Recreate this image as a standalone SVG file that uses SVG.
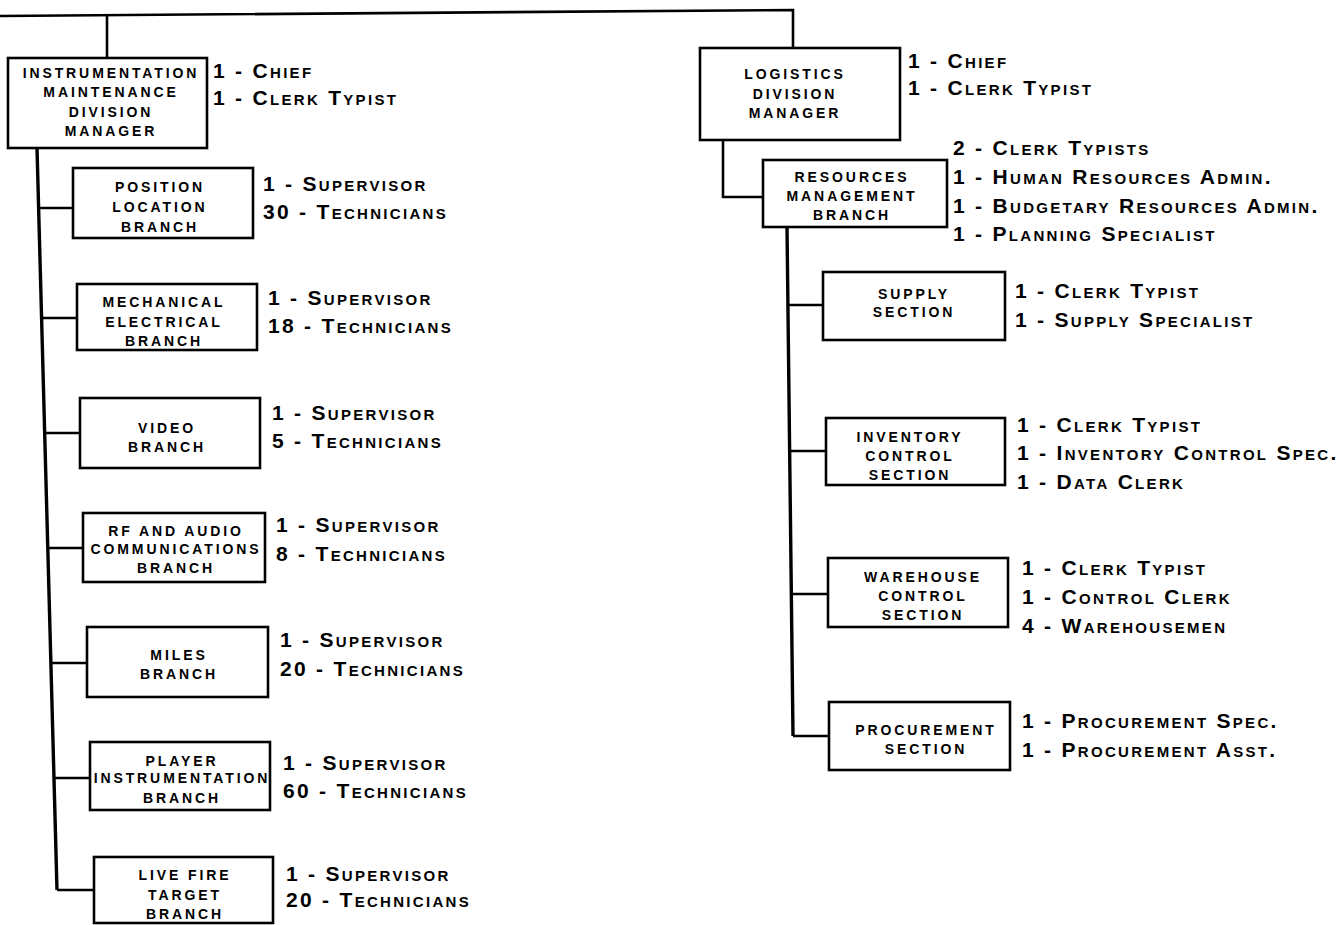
<svg xmlns="http://www.w3.org/2000/svg" width="1339" height="925" viewBox="0 0 1339 925">
<style>
.bg{fill:#fff}
.box{fill:#fff;stroke:#000;stroke-width:2.6}
.ln{fill:none;stroke:#000;stroke-width:2.6;stroke-linejoin:miter}
.spine{fill:none;stroke:#000;stroke-width:3.4}
.bt{font-family:"Liberation Sans",Arial,sans-serif;font-weight:bold;font-size:14px;letter-spacing:2.9px;text-anchor:middle;fill:#000}
.st{font-family:"Liberation Sans",Arial,sans-serif;font-weight:bold;font-size:21px;letter-spacing:2.3px;font-variant:small-caps;fill:#000}
</style>
<rect class="bg" x="0" y="0" width="1339" height="925"/>
<g id="connectors">
<path class="ln" d="M0,16 L793,10 L793,48"/>
<path class="ln" d="M107,15 L107,58"/>
<path class="spine" d="M37,148 L57,890"/>
<path class="ln" d="M38.6,208 H73 M41.6,318 H77 M44.7,433 H80 M47.8,548 H83 M50.9,663 H87 M54,778 H90 M57,890 H94"/>
<path class="ln" d="M723,140 L723,197 L763,197"/>
<path class="spine" d="M787,227 L793,736"/>
<path class="ln" d="M788,305 H823 M789,451 H826 M790.5,594 H828 M793,736 H829"/>
</g>
<g id="instrumentation">
<rect class="box" x="8" y="58" width="199" height="90"/>
<text class="bt" x="111" y="78">INSTRUMENTATION</text>
<text class="bt" x="111" y="97">MAINTENANCE</text>
<text class="bt" x="111" y="117">DIVISION</text>
<text class="bt" x="111" y="136">MANAGER</text>
<text class="st" x="213" y="78">1 - Chief</text>
<text class="st" x="213" y="105">1 - Clerk Typist</text>
</g>
<g id="position-location">
<rect class="box" x="73" y="168" width="180" height="70"/>
<text class="bt" x="160" y="192">POSITION</text>
<text class="bt" x="160" y="212">LOCATION</text>
<text class="bt" x="160" y="232">BRANCH</text>
<text class="st" x="263" y="191">1 - Supervisor</text>
<text class="st" x="263" y="219">30 - Technicians</text>
</g>
<g id="mechanical-electrical">
<rect class="box" x="77" y="284" width="180" height="66"/>
<text class="bt" x="164" y="307">MECHANICAL</text>
<text class="bt" x="164" y="327">ELECTRICAL</text>
<text class="bt" x="164" y="346">BRANCH</text>
<text class="st" x="268" y="305">1 - Supervisor</text>
<text class="st" x="268" y="333">18 - Technicians</text>
</g>
<g id="video">
<rect class="box" x="80" y="398" width="180" height="70"/>
<text class="bt" x="167" y="433">VIDEO</text>
<text class="bt" x="167" y="452">BRANCH</text>
<text class="st" x="272" y="420">1 - Supervisor</text>
<text class="st" x="272" y="448">5 - Technicians</text>
</g>
<g id="rf-audio">
<rect class="box" x="83" y="513" width="182" height="69"/>
<text class="bt" x="176" y="536">RF AND AUDIO</text>
<text class="bt" x="176" y="554">COMMUNICATIONS</text>
<text class="bt" x="176" y="573">BRANCH</text>
<text class="st" x="276" y="532">1 - Supervisor</text>
<text class="st" x="276" y="561">8 - Technicians</text>
</g>
<g id="miles">
<rect class="box" x="87" y="627" width="181" height="70"/>
<text class="bt" x="179" y="660">MILES</text>
<text class="bt" x="179" y="679">BRANCH</text>
<text class="st" x="280" y="647">1 - Supervisor</text>
<text class="st" x="280" y="676">20 - Technicians</text>
</g>
<g id="player-instrumentation">
<rect class="box" x="90" y="742" width="180" height="68"/>
<text class="bt" x="182" y="766">PLAYER</text>
<text class="bt" x="182" y="783">INSTRUMENTATION</text>
<text class="bt" x="182" y="803">BRANCH</text>
<text class="st" x="283" y="770">1 - Supervisor</text>
<text class="st" x="283" y="798">60 - Technicians</text>
</g>
<g id="live-fire">
<rect class="box" x="94" y="857" width="179" height="66"/>
<text class="bt" x="185" y="880">LIVE FIRE</text>
<text class="bt" x="185" y="900">TARGET</text>
<text class="bt" x="185" y="919">BRANCH</text>
<text class="st" x="286" y="881">1 - Supervisor</text>
<text class="st" x="286" y="907">20 - Technicians</text>
</g>
<g id="logistics">
<rect class="box" x="700" y="48" width="200" height="92"/>
<text class="bt" x="795" y="79">LOGISTICS</text>
<text class="bt" x="795" y="99">DIVISION</text>
<text class="bt" x="795" y="118">MANAGER</text>
<text class="st" x="908" y="68">1 - Chief</text>
<text class="st" x="908" y="95">1 - Clerk Typist</text>
</g>
<g id="resources-management">
<rect class="box" x="763" y="160" width="184" height="67"/>
<text class="bt" x="852" y="182">RESOURCES</text>
<text class="bt" x="852" y="201">MANAGEMENT</text>
<text class="bt" x="852" y="220">BRANCH</text>
<text class="st" x="953" y="155">2 - Clerk Typists</text>
<text class="st" x="953" y="184">1 - Human Resources Admin.</text>
<text class="st" x="953" y="213">1 - Budgetary Resources Admin.</text>
<text class="st" x="953" y="241">1 - Planning Specialist</text>
</g>
<g id="supply">
<rect class="box" x="823" y="272" width="182" height="68"/>
<text class="bt" x="914" y="299">SUPPLY</text>
<text class="bt" x="914" y="317">SECTION</text>
<text class="st" x="1015" y="298">1 - Clerk Typist</text>
<text class="st" x="1015" y="327">1 - Supply Specialist</text>
</g>
<g id="inventory-control">
<rect class="box" x="826" y="418" width="179" height="67"/>
<text class="bt" x="910" y="442">INVENTORY</text>
<text class="bt" x="910" y="461">CONTROL</text>
<text class="bt" x="910" y="480">SECTION</text>
<text class="st" x="1017" y="432">1 - Clerk Typist</text>
<text class="st" x="1017" y="460">1 - Inventory Control Spec.</text>
<text class="st" x="1017" y="489">1 - Data Clerk</text>
</g>
<g id="warehouse-control">
<rect class="box" x="828" y="558" width="180" height="69"/>
<text class="bt" x="923" y="582">WAREHOUSE</text>
<text class="bt" x="923" y="601">CONTROL</text>
<text class="bt" x="923" y="620">SECTION</text>
<text class="st" x="1022" y="575">1 - Clerk Typist</text>
<text class="st" x="1022" y="604">1 - Control Clerk</text>
<text class="st" x="1022" y="633">4 - Warehousemen</text>
</g>
<g id="procurement">
<rect class="box" x="829" y="702" width="181" height="68"/>
<text class="bt" x="926" y="735">PROCUREMENT</text>
<text class="bt" x="926" y="754">SECTION</text>
<text class="st" x="1022" y="728">1 - Procurement Spec.</text>
<text class="st" x="1022" y="757">1 - Procurement Asst.</text>
</g>
</svg>
